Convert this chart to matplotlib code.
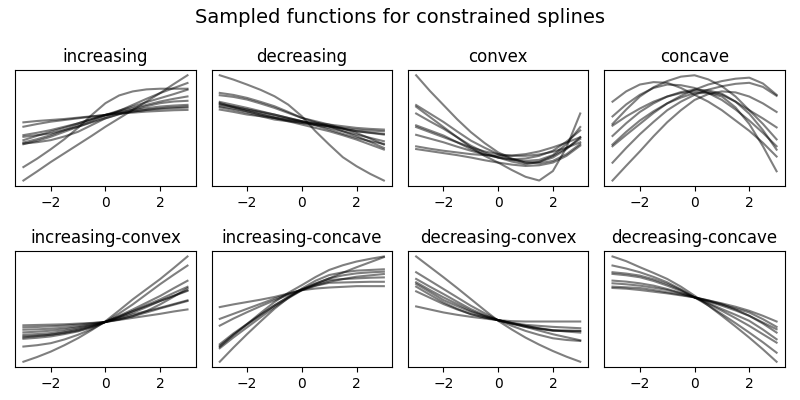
import matplotlib
matplotlib.use("Agg")
import matplotlib.pyplot as plt

# sample positions (every half unit)
x = [-3, -2.5, -2, -1.5, -1, -0.5, 0, 0.5, 1, 1.5, 2, 2.5, 3]

titles = ["increasing", "decreasing", "convex", "concave",
          "increasing-convex", "increasing-concave",
          "decreasing-convex", "decreasing-concave"]

increasing = [
    [-1.05, -0.80, -0.52, -0.22, 0.12, 0.50, 0.85, 1.08, 1.20, 1.26, 1.28, 1.28, 1.28],
    [-1.45, -1.18, -0.90, -0.64, -0.38, -0.12, 0.15, 0.40, 0.65, 0.90, 1.15, 1.42, 1.68],
    [-0.37, -0.27, -0.15, 0.00, 0.15, 0.30, 0.45, 0.62, 0.80, 0.98, 1.15, 1.30, 1.45],
    [-0.32, -0.22, -0.10, 0.05, 0.20, 0.35, 0.50, 0.63, 0.75, 0.88, 1.00, 1.12, 1.25],
    [-0.25, -0.12, 0.00, 0.12, 0.25, 0.38, 0.50, 0.60, 0.70, 0.80, 0.90, 0.98, 1.05],
    [-0.15, -0.10, -0.05, 0.05, 0.15, 0.28, 0.40, 0.53, 0.65, 0.76, 0.85, 0.90, 0.92],
    [-0.10, -0.03, 0.05, 0.15, 0.25, 0.38, 0.50, 0.58, 0.65, 0.70, 0.75, 0.78, 0.80],
    [0.15, 0.23, 0.30, 0.35, 0.40, 0.45, 0.50, 0.55, 0.60, 0.65, 0.70, 0.73, 0.75],
    [0.28, 0.32, 0.35, 0.38, 0.42, 0.46, 0.50, 0.54, 0.57, 0.60, 0.62, 0.64, 0.65],
    [-0.35, -0.31, -0.25, -0.14, 0.00, 0.20, 0.40, 0.52, 0.60, 0.65, 0.68, 0.70, 0.72],
]
decreasing = [
    [1.68, 1.55, 1.40, 1.24, 1.05, 0.80, 0.45, 0.00, -0.40, -0.78, -1.05, -1.28, -1.48],
    [1.15, 1.09, 1.00, 0.88, 0.75, 0.58, 0.40, 0.27, 0.15, 0.00, -0.15, -0.32, -0.50],
    [1.08, 1.03, 0.95, 0.83, 0.70, 0.55, 0.40, 0.30, 0.20, 0.08, -0.05, -0.22, -0.40],
    [0.88, 0.79, 0.70, 0.60, 0.50, 0.40, 0.30, 0.22, 0.15, 0.07, 0.00, -0.04, -0.08],
    [0.82, 0.74, 0.65, 0.55, 0.45, 0.37, 0.30, 0.25, 0.20, 0.15, 0.10, 0.07, 0.05],
    [0.75, 0.68, 0.60, 0.50, 0.40, 0.32, 0.25, 0.18, 0.10, 0.00, -0.10, -0.20, -0.30],
    [0.65, 0.58, 0.50, 0.45, 0.40, 0.34, 0.28, 0.22, 0.15, 0.08, 0.00, -0.05, -0.10],
    [0.85, 0.72, 0.60, 0.50, 0.40, 0.30, 0.20, 0.10, 0.00, -0.12, -0.25, -0.40, -0.55],
    [0.72, 0.64, 0.55, 0.45, 0.35, 0.30, 0.25, 0.20, 0.15, 0.10, 0.05, 0.02, 0.00],
    [0.80, 0.73, 0.65, 0.58, 0.50, 0.40, 0.30, 0.18, 0.05, -0.08, -0.20, -0.30, -0.38],
]
convex = [
    [1.68, 1.22, 0.80, 0.38, 0.00, -0.32, -0.60, -0.78, -0.90, -0.88, -0.75, -0.50, -0.15],
    [0.75, 0.45, 0.15, -0.15, -0.45, -0.70, -0.90, -1.12, -1.32, -1.43, -1.15, -0.45, 0.55],
    [0.55, 0.32, 0.10, -0.15, -0.40, -0.60, -0.75, -0.87, -0.95, -0.88, -0.70, -0.47, -0.20],
    [0.20, 0.05, -0.10, -0.30, -0.50, -0.65, -0.75, -0.80, -0.78, -0.70, -0.55, -0.28, 0.05],
    [0.15, 0.00, -0.15, -0.30, -0.45, -0.57, -0.65, -0.70, -0.70, -0.66, -0.58, -0.46, -0.30],
    [-0.08, -0.19, -0.30, -0.43, -0.55, -0.66, -0.75, -0.82, -0.85, -0.82, -0.68, -0.35, 0.15],
    [-0.42, -0.49, -0.55, -0.60, -0.65, -0.68, -0.70, -0.69, -0.65, -0.57, -0.45, -0.31, -0.15],
    [-0.50, -0.56, -0.62, -0.68, -0.75, -0.83, -0.90, -0.96, -1.00, -0.98, -0.90, -0.70, -0.40],
    [0.80, 0.55, 0.30, 0.02, -0.25, -0.46, -0.65, -0.80, -0.90, -0.92, -0.85, -0.65, -0.35],
]
concave = [
    [0.85, 1.15, 1.35, 1.42, 1.40, 1.25, 1.05, 0.85, 0.60, 0.30, 0.00, -0.35, -0.75],
    [0.20, 0.62, 1.00, 1.27, 1.45, 1.58, 1.62, 1.50, 1.30, 1.00, 0.60, 0.20, -0.25],
    [-0.45, -0.12, 0.20, 0.52, 0.80, 1.02, 1.20, 1.35, 1.45, 1.52, 1.55, 1.38, 1.05],
    [-0.93, -0.50, -0.10, 0.26, 0.60, 0.85, 1.05, 1.20, 1.30, 1.37, 1.40, 1.28, 1.02],
    [-1.45, -1.02, -0.60, -0.16, 0.25, 0.60, 0.90, 1.07, 1.15, 1.12, 1.00, 0.80, 0.55],
    [0.42, 0.77, 1.05, 1.25, 1.35, 1.33, 1.25, 1.10, 0.90, 0.62, 0.30, -0.06, -0.45],
    [0.15, 0.42, 0.65, 0.85, 1.00, 1.10, 1.15, 1.13, 1.05, 0.85, 0.60, 0.36, 0.10],
    [-0.15, 0.22, 0.55, 0.80, 1.00, 1.13, 1.20, 1.18, 1.08, 0.85, 0.50, 0.02, -0.55],
    [-0.40, -0.03, 0.30, 0.57, 0.80, 0.97, 1.10, 1.10, 1.00, 0.68, 0.20, -0.45, -1.18],
]
increasing_convex = [
    [-1.30, -1.16, -1.00, -0.81, -0.60, -0.36, -0.10, 0.22, 0.55, 0.85, 1.15, 1.48, 1.82],
    [-0.85, -0.81, -0.75, -0.64, -0.50, -0.33, -0.12, 0.13, 0.40, 0.70, 1.00, 1.28, 1.55],
    [-0.62, -0.59, -0.55, -0.48, -0.40, -0.28, -0.12, 0.06, 0.25, 0.45, 0.65, 0.88, 1.10],
    [-0.58, -0.54, -0.50, -0.43, -0.35, -0.25, -0.12, 0.03, 0.20, 0.38, 0.55, 0.74, 0.92],
    [-0.50, -0.48, -0.45, -0.39, -0.32, -0.23, -0.12, 0.01, 0.15, 0.32, 0.50, 0.66, 0.82],
    [-0.43, -0.41, -0.38, -0.34, -0.28, -0.21, -0.12, -0.01, 0.10, 0.20, 0.30, 0.41, 0.52],
    [-0.35, -0.34, -0.32, -0.29, -0.25, -0.19, -0.12, -0.04, 0.05, 0.16, 0.28, 0.39, 0.50],
    [-0.28, -0.27, -0.25, -0.23, -0.20, -0.16, -0.12, -0.06, 0.00, 0.06, 0.12, 0.19, 0.25],
    [-0.22, -0.21, -0.20, -0.19, -0.17, -0.15, -0.12, -0.05, 0.05, 0.20, 0.40, 0.63, 0.88],
    [-0.55, -0.53, -0.50, -0.45, -0.38, -0.27, -0.12, 0.04, 0.20, 0.35, 0.50, 0.65, 0.80],
]
increasing_concave = [
    [-1.32, -0.90, -0.50, -0.12, 0.25, 0.57, 0.85, 1.08, 1.25, 1.33, 1.38, 1.40, 1.42],
    [-0.88, -0.53, -0.20, 0.13, 0.45, 0.72, 0.95, 1.19, 1.40, 1.54, 1.65, 1.73, 1.80],
    [-0.25, -0.04, 0.15, 0.33, 0.50, 0.66, 0.82, 0.99, 1.15, 1.32, 1.48, 1.63, 1.78],
    [-0.05, 0.10, 0.25, 0.40, 0.55, 0.69, 0.82, 0.94, 1.05, 1.13, 1.20, 1.24, 1.28],
    [0.30, 0.38, 0.45, 0.52, 0.60, 0.70, 0.80, 0.85, 0.88, 0.90, 0.92, 0.92, 0.92],
    [-0.80, -0.48, -0.20, 0.08, 0.35, 0.60, 0.82, 1.00, 1.15, 1.24, 1.30, 1.33, 1.35],
    [-0.92, -0.60, -0.30, 0.00, 0.30, 0.56, 0.80, 0.97, 1.10, 1.13, 1.15, 1.17, 1.18],
    [-0.85, -0.52, -0.22, 0.07, 0.35, 0.59, 0.80, 0.93, 1.02, 1.03, 1.04, 1.05, 1.05],
]
decreasing_convex = [
    [1.82, 1.51, 1.20, 0.88, 0.55, 0.22, -0.10, -0.36, -0.60, -0.81, -1.00, -1.17, -1.32],
    [1.35, 1.10, 0.85, 0.60, 0.35, 0.13, -0.08, -0.25, -0.40, -0.52, -0.62, -0.67, -0.70],
    [1.15, 0.92, 0.70, 0.47, 0.25, 0.07, -0.08, -0.19, -0.28, -0.34, -0.38, -0.39, -0.40],
    [1.05, 0.82, 0.60, 0.40, 0.20, 0.05, -0.08, -0.16, -0.22, -0.25, -0.28, -0.30, -0.32],
    [1.00, 0.76, 0.52, 0.34, 0.17, 0.04, -0.08, -0.17, -0.25, -0.32, -0.38, -0.42, -0.45],
    [0.92, 0.68, 0.45, 0.26, 0.10, 0.00, -0.08, -0.11, -0.12, -0.12, -0.12, -0.12, -0.12],
    [0.78, 0.59, 0.40, 0.24, 0.10, 0.00, -0.08, -0.17, -0.25, -0.33, -0.40, -0.40, -0.40],
    [0.33, 0.24, 0.15, 0.08, 0.02, -0.03, -0.08, -0.18, -0.28, -0.39, -0.50, -0.59, -0.68],
]
decreasing_concave = [
    [1.82, 1.68, 1.50, 1.33, 1.15, 0.92, 0.65, 0.36, 0.05, -0.27, -0.60, -0.95, -1.32],
    [1.55, 1.46, 1.35, 1.21, 1.05, 0.84, 0.60, 0.36, 0.10, -0.17, -0.45, -0.74, -1.05],
    [1.35, 1.31, 1.25, 1.14, 1.00, 0.82, 0.60, 0.41, 0.20, -0.02, -0.25, -0.50, -0.75],
    [1.30, 1.26, 1.20, 1.09, 0.95, 0.79, 0.60, 0.43, 0.25, 0.08, -0.10, -0.36, -0.65],
    [1.10, 1.07, 1.02, 0.95, 0.85, 0.73, 0.60, 0.48, 0.35, 0.21, 0.05, -0.18, -0.45],
    [1.02, 0.99, 0.95, 0.89, 0.82, 0.72, 0.60, 0.49, 0.38, 0.27, 0.15, -0.05, -0.28],
    [0.92, 0.90, 0.88, 0.82, 0.75, 0.68, 0.60, 0.51, 0.42, 0.32, 0.20, 0.05, -0.12],
    [0.88, 0.86, 0.82, 0.77, 0.72, 0.66, 0.60, 0.51, 0.40, 0.24, 0.05, -0.15, -0.35],
]

panels = [increasing, decreasing, convex, concave,
          increasing_convex, increasing_concave,
          decreasing_convex, decreasing_concave]

fig, axes = plt.subplots(2, 4, figsize=(8, 4), dpi=100)
for ax, title, lines in zip(axes.flat, titles, panels):
    for y in lines:
        ax.plot(x, y, color="black", alpha=0.5, linewidth=1.5)
    ax.set_title(title)
    ax.set_yticks([])
    ax.set_xticks([-2, 0, 2])

fig.suptitle("Sampled functions for constrained splines", fontsize=14)
fig.subplots_adjust(left=0.019, right=0.981, top=0.825, bottom=0.0825,
                    wspace=0.088, hspace=0.565)
fig.savefig("out.png")
